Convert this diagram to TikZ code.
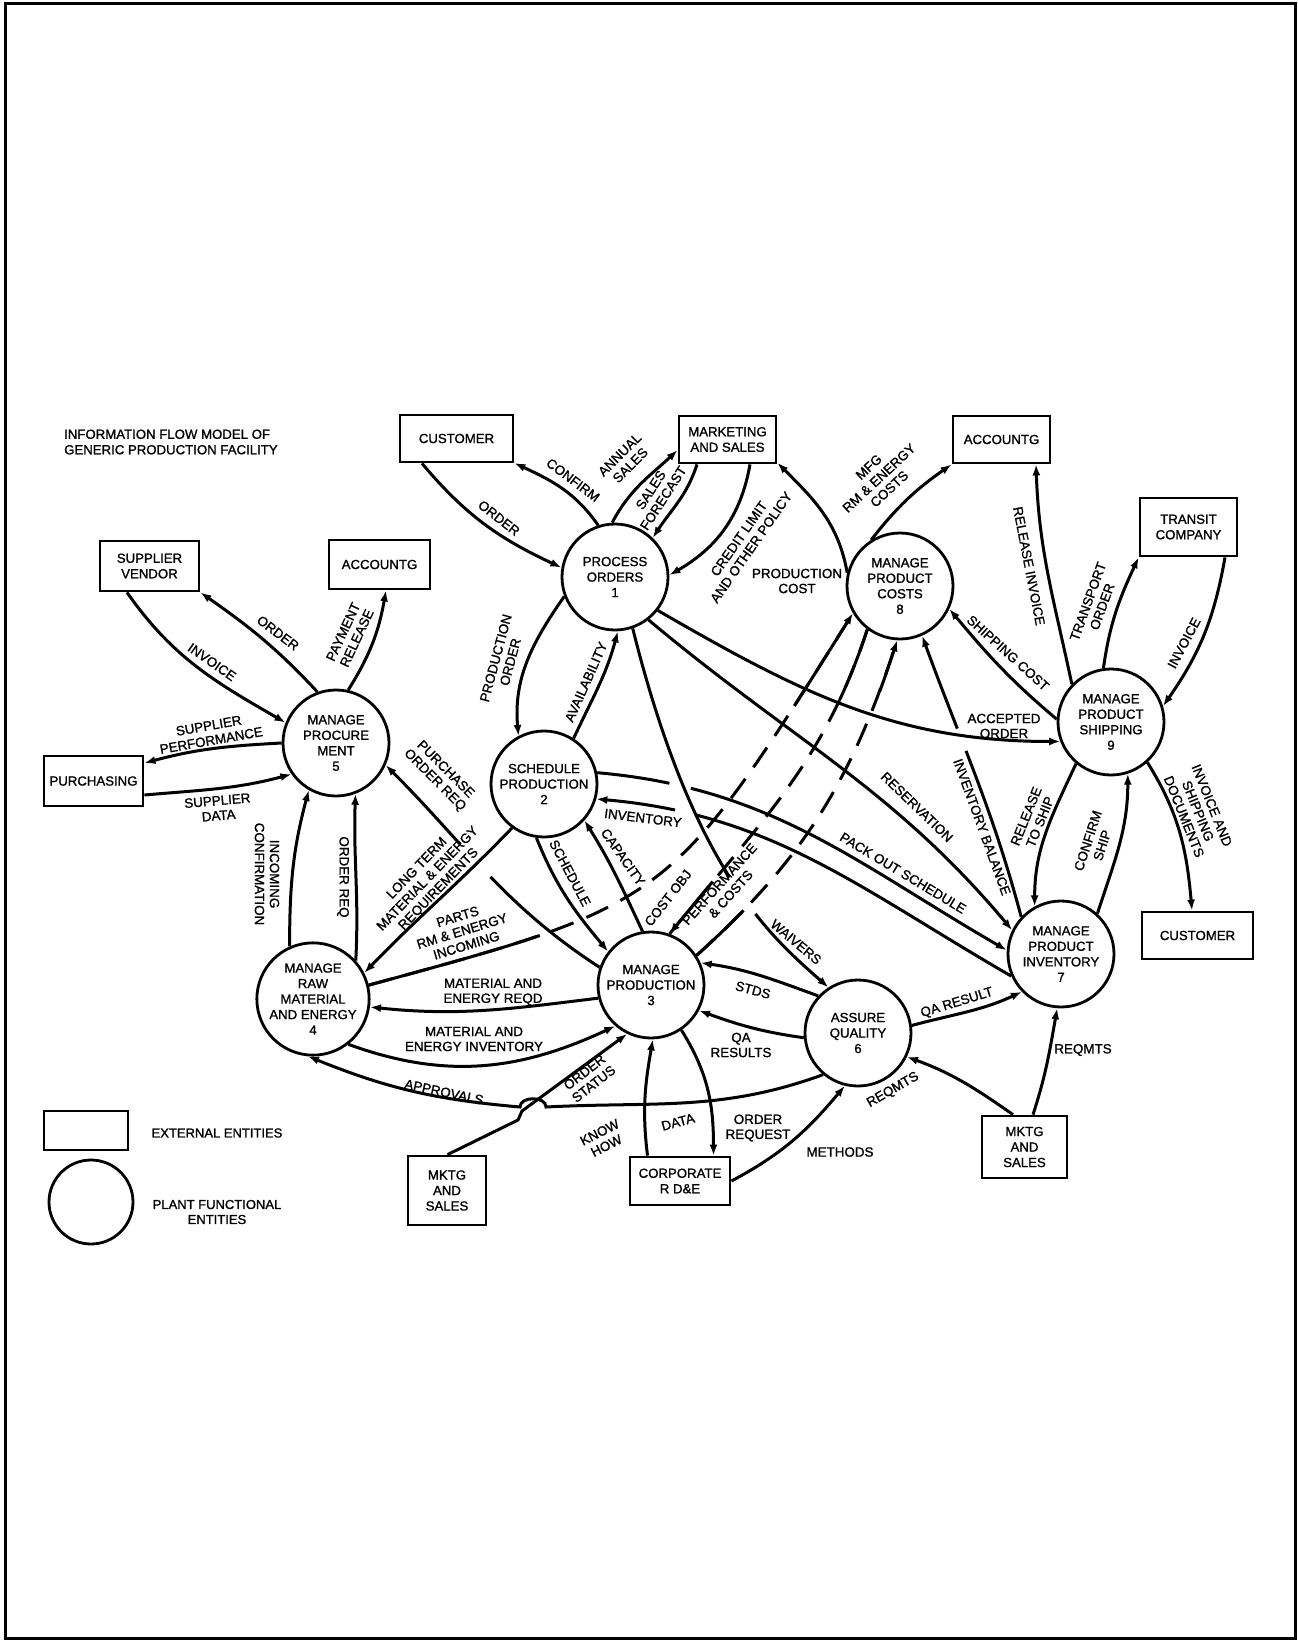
\documentclass[tikz,border=0pt]{standalone}
\usepackage{fontspec}
\setmainfont{Liberation Sans}[FakeBold=1.2]
\usetikzlibrary{arrows.meta}
\newcommand\myNF{\fontsize{13.2}{15.5}\selectfont}
\newcommand\myLF{\fontsize{13.4}{15}\selectfont}
\begin{document}
\begin{tikzpicture}[x=1pt,y=-1pt,
  ent/.style={draw, line width=2.8pt, inner sep=0pt, align=center, font=\myNF},
  proc/.style={draw, circle, line width=2.8pt, minimum size=106pt, inner sep=0pt, align=center, font=\myNF},
  arr/.style={line width=3pt, -{Latex[length=11pt,width=8pt]}},
  dsh/.style={line width=3pt, dash pattern=on 24pt off 14pt},
  lab/.style={font=\myLF, align=center, inner sep=0pt}]

\useasboundingbox (0,0) rectangle (1298,1641);
\draw[line width=3pt] (5,3) rectangle (1295,1638);

% title
\node[lab, anchor=west, align=left, font=\fontsize{13.2}{15.5}\selectfont] (title) at (64,442) {INFORMATION FLOW MODEL OF\\GENERIC PRODUCTION FACILITY};

% external entities
\node[ent, minimum width=113pt, minimum height=47pt] (cust1) at (456.5,438.5) {CUSTOMER};
\node[ent, minimum width=97pt, minimum height=47pt] (mkt1) at (727.5,439.5) {MARKETING\\AND SALES};
\node[ent, minimum width=97pt, minimum height=47pt] (acc1) at (1001.5,439.5) {ACCOUNTG};
\node[ent, minimum width=97pt, minimum height=58pt] (transit) at (1188.5,527) {TRANSIT\\COMPANY};
\node[ent, minimum width=99pt, minimum height=50pt] (supp) at (149.5,566) {SUPPLIER\\VENDOR};
\node[ent, minimum width=101pt, minimum height=49pt] (acc2) at (379.5,564.5) {ACCOUNTG};
\node[ent, minimum width=99pt, minimum height=50pt] (purch) at (93.5,781) {PURCHASING};
\node[ent, minimum width=111pt, minimum height=47pt] (cust2) at (1197.5,935.5) {CUSTOMER};
\node[ent, minimum width=85pt, minimum height=62pt] (mkt3) at (1024.5,1147) {MKTG\\AND\\SALES};
\node[ent, minimum width=78pt, minimum height=69pt] (mkt2) at (447,1190.5) {MKTG\\AND\\SALES};
\node[ent, minimum width=100pt, minimum height=48pt] (corp) at (680,1181) {CORPORATE\\R D\&E};

% plant functional entities
\node[proc] (p1) at (615,577) {PROCESS\\ORDERS\\1};
\node[proc] (p2) at (544,784) {SCHEDULE\\PRODUCTION\\2};
\node[proc] (p3) at (651,985) {MANAGE\\PRODUCTION\\3};
\node[proc] (p4) at (313,999) {MANAGE\\RAW\\MATERIAL\\AND ENERGY\\4};
\node[proc] (p5) at (336,743) {MANAGE\\PROCURE\\MENT\\5};
\node[proc] (p6) at (858,1033) {ASSURE\\QUALITY\\6};
\node[proc] (p7) at (1061,954) {MANAGE\\PRODUCT\\INVENTORY\\7};
\node[proc] (p8) at (900,586) {MANAGE\\PRODUCT\\COSTS\\8};
\node[proc] (p9) at (1111,722) {MANAGE\\PRODUCT\\SHIPPING\\9};

% legend
\node[ent, minimum width=84pt, minimum height=39pt] (legR) at (86,1130.5) {};
\node[proc, minimum size=84pt] (legC) at (91,1202) {};
\node[lab, font=\fontsize{13}{15}\selectfont] (legRt) at (217,1133) {EXTERNAL ENTITIES};
\node[lab, font=\fontsize{13}{15}\selectfont] (legCt) at (217,1212) {PLANT FUNCTIONAL\\ENTITIES};

% ---- connectors: process orders
\draw[arr] ([xshift=-34.5pt]cust1.south) to[out=-50,in=155] (p1.170);
\draw[arr] (p1.108) to[out=125,in=-25] (cust1.-23);
\draw[arr] (p1.93) to[out=62,in=-137] (mkt1.192);
\draw[arr] ([xshift=-30.5pt]mkt1.south) to[out=-108,in=57] (p1.46);
\draw[arr] ([xshift=22.5pt]mkt1.south) to[out=-100,in=30] (p1.2);
\draw[arr] (p8.166) to[out=100,in=-45] (mkt1.-25);
\draw[arr] (p1.201) to[out=-125,in=95] (p2.118);
\draw[arr] (p2.57) to[out=65,in=-105] (p1.-87);
\draw[arr, dash pattern=on 268pt off 45pt on 400pt off 1pt] (p1.-71) .. controls (693,869.5) and (769,935) .. (p6.123);
\draw[arr] (p1.-52) to[out=-40,in=130] (p7.154);
\draw[arr] (p1.-38) to[out=-30,in=180] (p9.201);

% ---- costs / shipping
\draw[arr] (p8.122) to[out=52,in=-145] (acc1.south west);
\draw[arr] (p9.177) to[out=140,in=-50] (p8.-25);
\draw[arr] (p9.136) to[out=102,in=-88] ([xshift=34.5pt]acc1.south);
\draw[arr] (p9.98) to[out=82,in=-115] (transit.south west);
\draw[arr] ([xshift=36.5pt]transit.south) to[out=-100,in=55] (p9.17);
\draw[arr] (p9.230) to[out=-115,in=90] (p7.119);
\draw[arr] (p7.48) to[out=72,in=-90] (p9.-72);
\draw[arr] (p9.-48) to[out=-58,in=95] ([xshift=-5.5pt]cust2.north);
\draw[arr, dash pattern=on 175pt off 24pt on 400pt off 1pt] (p7.137) to[out=105,in=-70] (p8.-66);

% ---- dashed long flows to/from costs (dashed middle, solid ends)
\draw[dsh] (p4.14) .. controls (671,903) .. (p8.210);
\draw[arr, dash pattern=on 178pt off 352pt on 500pt off 1pt] (p4.14) .. controls (671,903) .. (p8.210);
\draw[dsh] (p8.233) to[out=-108,in=51] (p3.70);
\draw[arr, dash pattern=on 76pt off 222pt on 500pt off 1pt] (p8.233) to[out=-108,in=51] (p3.70);
\draw[dsh] (p3.33) to[out=42,in=-108] (p8.267);
\draw[arr, dash pattern=on 65pt off 260pt on 500pt off 1pt] (p3.33) to[out=42,in=-108] (p8.267);

% ---- schedule production
\draw[arr, dash pattern=on 73pt off 22pt on 600pt off 1pt] (p2.12) to[out=-5,in=150] (p7.176);
\draw[arr, dash pattern=on 355pt off 22pt on 300pt off 1pt] (p7.204) to[out=150,in=-5] (p2.-16);
\draw[arr] (p2.-98) to[out=-68,in=130] (p3.142);
\draw[arr] (p3.99) to[out=115,in=-58] (p2.-42);
\draw[arr] (p2.234) to[out=-134,in=46] (p4.27);
\draw[arr, dash pattern=on 142pt off 44pt on 300pt off 1pt] (p3.161) to[out=147,in=-45] (p5.-24);

% ---- manage production / quality
\draw[arr] (p6.137) to[out=160,in=-8] (p3.24);
\draw[arr] (p6.185) to[out=172,in=-20] (p3.-28);
\draw[arr] (p6.8) to[out=15,in=-155] (p7.224);
\draw[arr] (corp.east) to[out=28,in=-130] (p6.-104);
\draw[arr] (p3.-56) to[out=-58,in=90] ([xshift=33.5pt]corp.north);
\draw[arr] ([xshift=-32.5pt]corp.north) to[out=97,in=-100] (p3.-88);
\draw[arr] ([xshift=8.5pt]mkt3.north) to[out=72,in=-100] (p7.-94);
\draw[arr] ([xshift=-11.5pt]mkt3.north) to[out=145,in=-20] (p6.-26);
\draw[arr] ([xshift=0.5pt]mkt2.north) -- (518,1120) -- (522,1111) -- (p3.-116);
\draw[arr] (p6.230) to[out=200,in=3] (546,1107) .. controls (546,1096) and (520,1096) .. (520,1107) to[out=175,in=-22] (p4.-95);

% ---- raw material / procurement
\draw[arr] (p3.194) to[out=187,in=-6] (p4.-8);
\draw[arr] (p4.-52) to[out=-20,in=-155] (p3.229);
\draw[arr] (p4.42) to[out=87,in=-92] (p5.-69);
\draw[arr] (p4.114) to[out=90,in=-105] (p5.240);
\draw[arr] (p5.110) to[out=133,in=-35] (supp.south east);
\draw[arr] ([xshift=-22.5pt]supp.south) to[out=-55,in=150] (p5.158);
\draw[arr] (p5.77) to[out=58,in=-100] ([xshift=6.5pt]acc2.south);
\draw[arr] (p5.180) to[out=183,in=15] ([yshift=18pt]purch.east);
\draw[arr] ([yshift=-14pt]purch.east) to[out=5,in=-165] (p5.215);

% ---- labels
\node[lab, rotate=-38] (lOrder1) at (499,518) {ORDER};
\node[lab, rotate=-37] (lConfirm) at (573,480) {CONFIRM};
\node[lab, rotate=45] (lAnnual) at (625,460) {ANNUAL\\SALES};
\node[lab, rotate=57] (lForecast) at (657,494) {SALES\\FORECAST};
\node[lab, rotate=55] (lCredit) at (745,543) {CREDIT LIMIT\\AND OTHER POLICY};
\node[lab] (lProdCost) at (797,581) {PRODUCTION\\COST};
\node[lab, rotate=75] (lProdOrder) at (503,660) {PRODUCTION\\ORDER};
\node[lab, rotate=66] (lAvail) at (586,682) {AVAILABILITY};
\node[lab, rotate=-44] (lReserv) at (917,807) {RESERVATION};
\node[lab] (lAccepted) at (1004,726) {ACCEPTED\\ORDER};
\node[lab, rotate=-70] (lInvBal) at (982,827) {INVENTORY BALANCE};
\node[lab, rotate=-42] (lShipCost) at (1008,653) {SHIPPING COST};
\node[lab, rotate=-79] (lRelInv) at (1029,566) {RELEASE INVOICE};
\node[lab, rotate=70] (lTransport) at (1095,604) {TRANSPORT\\ORDER};
\node[lab, rotate=62] (lInvoice2) at (1184,643) {INVOICE};
\node[lab, rotate=43] (lMfg) at (879,478) {MFG\\RM \& ENERGY\\COSTS};
\node[lab, rotate=68] (lRelShip) at (1033,819) {RELEASE\\TO SHIP};
\node[lab, rotate=72] (lConfShip) at (1095,843) {CONFIRM\\SHIP};
\node[lab, rotate=-68] (lDocs) at (1198,811) {INVOICE AND\\SHIPPING\\DOCUMENTS};
\node[lab, rotate=-31] (lPackOut) at (903,873) {PACK OUT SCHEDULE};
\node[lab, rotate=-7] (lInventory) at (643,818) {INVENTORY};
\node[lab, rotate=-62] (lSchedule) at (570,873) {SCHEDULE};
\node[lab, rotate=-55] (lCapacity) at (623,857) {CAPACITY};
\node[lab, rotate=52] (lCostObj) at (668,898) {COST OBJ};
\node[lab, rotate=48] (lPerf) at (725,889) {PERFORMANCE\\\& COSTS};
\node[lab, rotate=-40] (lWaivers) at (796,942) {WAIVERS};
\node[lab, rotate=-15] (lStds) at (753,990) {STDS};
\node[lab] (lQaResults) at (741,1045) {QA\\RESULTS};
\node[lab, rotate=17] (lQaResult) at (957,1003) {QA RESULT};
\node[lab] (lReqmts1) at (1083,1050) {REQMTS};
\node[lab, rotate=30] (lReqmts2) at (893,1090) {REQMTS};
\node[lab] (lMethods) at (840,1152) {METHODS};
\node[lab] (lOrderReq) at (758,1128) {ORDER\\REQUEST};
\node[lab, rotate=15] (lData) at (678,1122) {DATA};
\node[lab, rotate=27] (lKnow) at (603,1139) {KNOW\\HOW};
\node[lab, rotate=38] (lStatus) at (589,1078) {ORDER\\STATUS};
\node[lab, rotate=-12] (lApprovals) at (444,1092) {APPROVALS};
\node[lab] (lMatInv) at (474,1039) {MATERIAL AND\\ENERGY INVENTORY};
\node[lab] (lMatReqd) at (493,992) {MATERIAL AND\\ENERGY REQD};
\node[lab, rotate=17] (lParts) at (462,931) {PARTS\\RM \& ENERGY\\INCOMING};
\node[lab, rotate=46] (lLongTerm) at (428,879) {LONG TERM\\MATERIAL \& ENERGY\\REQUIREMENTS};
\node[lab, rotate=-45] (lPOR) at (440,775) {PURCHASE\\ORDER REQ};
\node[lab, rotate=-90] (lOrderReq2) at (343,877) {ORDER REQ};
\node[lab, rotate=-90] (lIncoming) at (267,874) {INCOMING\\CONFIRMATION};
\node[lab, rotate=-37] (lOrder2) at (278,633) {ORDER};
\node[lab, rotate=-35] (lInvoice1) at (212,662) {INVOICE};
\node[lab, rotate=65] (lPayment) at (350,635) {PAYMENT\\RELEASE};
\node[lab, rotate=10] (lSuppPerf) at (210,733) {SUPPLIER\\PERFORMANCE};
\node[lab, rotate=5] (lSuppData) at (218,808) {SUPPLIER\\DATA};
\end{tikzpicture}
\end{document}
